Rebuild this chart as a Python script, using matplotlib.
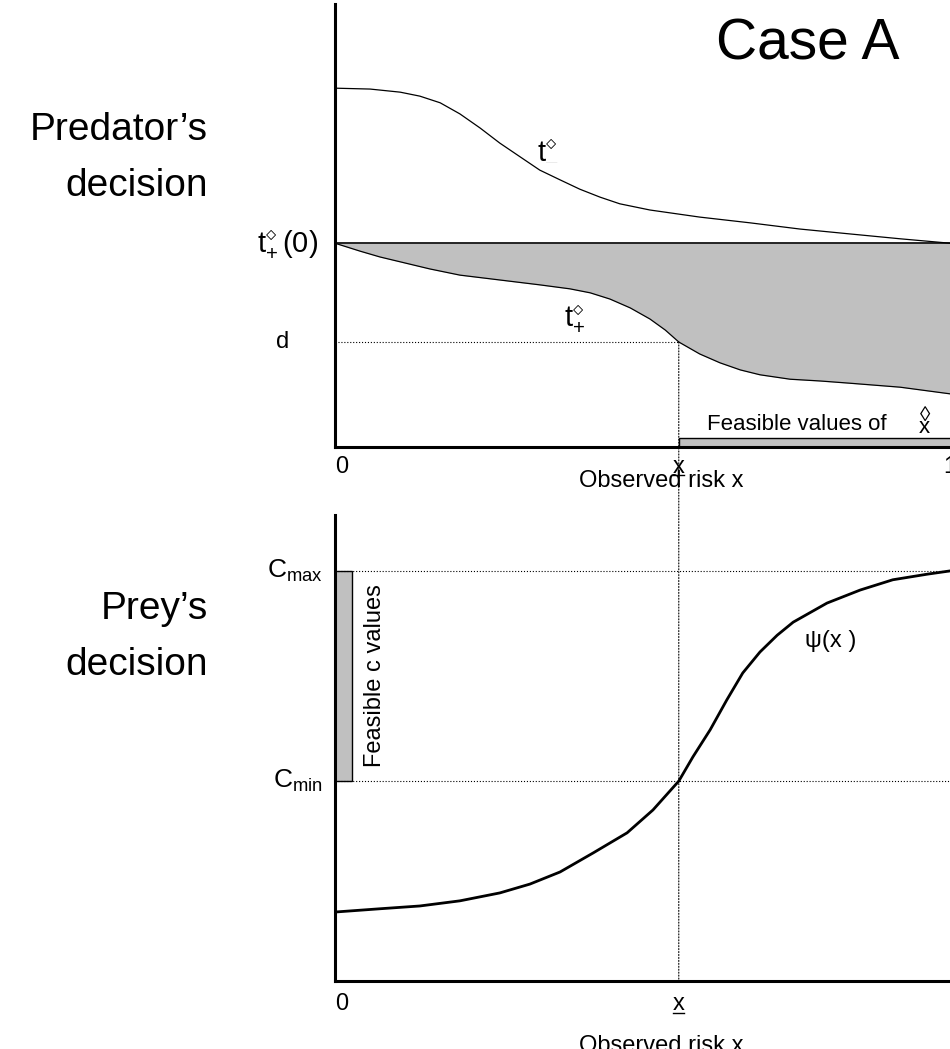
import numpy as np
import matplotlib.pyplot as plt
from matplotlib.patches import Rectangle, ConnectionPatch

plt.rcParams['font.family'] = ['Liberation Sans', 'DejaVu Sans']
plt.rcParams['mathtext.fontset'] = 'custom'
plt.rcParams['mathtext.rm'] = 'Liberation Sans'
plt.rcParams['mathtext.it'] = 'Liberation Sans:italic'
plt.rcParams['mathtext.sf'] = 'Liberation Sans'

# --- predator panel (axes scaled 0..1) ---
x_tm = [0, 0.057, 0.106, 0.138, 0.171, 0.203, 0.236, 0.268, 0.301, 0.333, 0.366,
        0.398, 0.431, 0.463, 0.512, 0.593, 0.675, 0.756, 0.837, 0.919, 1.0]
t_minus = [0.810, 0.808, 0.801, 0.792, 0.777, 0.752, 0.720, 0.686, 0.655, 0.625, 0.603,
           0.582, 0.564, 0.549, 0.535, 0.519, 0.506, 0.492, 0.481, 0.470, 0.460]

x_tp = [0, 0.041, 0.073, 0.106, 0.154, 0.203, 0.268, 0.333, 0.382, 0.415, 0.447, 0.480,
        0.512, 0.537, 0.559, 0.593, 0.626, 0.659, 0.691, 0.740, 0.789, 0.837, 0.919, 1.0]
t_plus = [0.460, 0.442, 0.429, 0.418, 0.402, 0.388, 0.377, 0.366, 0.357, 0.348, 0.334, 0.314,
          0.289, 0.264, 0.237, 0.210, 0.190, 0.174, 0.163, 0.153, 0.149, 0.144, 0.135, 0.120]

t_plus0 = 0.46
d_level = 0.237
x_low = 0.559
bar_h = 0.02

# --- prey panel ---
x_psi = [0, 0.073, 0.138, 0.203, 0.268, 0.317, 0.366, 0.420, 0.475, 0.517, 0.559, 0.582,
         0.610, 0.637, 0.663, 0.691, 0.719, 0.745, 0.800, 0.854, 0.907, 0.963, 1.0]
psi = [0.148, 0.155, 0.161, 0.172, 0.189, 0.208, 0.234, 0.275, 0.318, 0.367, 0.429, 0.481,
       0.539, 0.603, 0.661, 0.706, 0.742, 0.770, 0.811, 0.839, 0.861, 0.873, 0.880]
c_max = 0.88
c_min = 0.429
c_bar_w = 0.028

W, H = 950, 1049
fig = plt.figure(figsize=(W / 100, H / 100), dpi=100)


def px_axes(left, top, bottom, right=950):
    return fig.add_axes([left / W, 1 - bottom / H, (right - left) / W, (bottom - top) / H])


def style(ax):
    for s in ['top', 'right']:
        ax.spines[s].set_visible(False)
    for s in ['left', 'bottom']:
        ax.spines[s].set_linewidth(2.2)
    ax.set_xticks([])
    ax.set_yticks([])
    ax.set_xlim(0, 1)
    ax.set_ylim(0, 1)
    ax.patch.set_alpha(0)


def underline(ax, x, y, half=0.009):
    ax.plot([x - half, x + half], [y, y], color='black', lw=1, clip_on=False)


fs = 17
fs_t = 21
t_minus_label = r'$\mathrm{t}^{\diamond}_{\mathrm{' + '\u2013' + r'}}$'

# top panel
ax1 = px_axes(335, 4, 447)
style(ax1)
ax1.fill_between(x_tp, t_plus, t_plus0, color='silver', lw=0)
ax1.plot(x_tm, t_minus, color='black', lw=0.9)
ax1.plot(x_tp, t_plus, color='black', lw=0.9)
ax1.plot([0, 1], [t_plus0, t_plus0], color='black', lw=1.2)
ax1.plot([0, x_low], [d_level, d_level], color='black', lw=0.8, ls=':')
ax1.add_patch(Rectangle((x_low, 0), 1.1 - x_low, bar_h, facecolor='silver',
                        edgecolor='black', lw=1, clip_on=False))

ax1.text(-0.028, t_plus0, r'$\mathrm{t}^{\diamond}_{+}\,$(0)', ha='right', va='center', fontsize=fs_t)
ax1.text(-0.085, d_level, 'd', ha='center', va='center', fontsize=fs)
ax1.text(0.346, 0.673, t_minus_label, ha='center', va='center', fontsize=fs_t)
ax1.text(0.39, 0.29, r'$\mathrm{t}^{\diamond}_{+}$', ha='center', va='center', fontsize=fs_t)
ax1.text(0.605, 0.05, 'Feasible values of', ha='left', va='center', fontsize=16)
ax1.text(0.959, 0.072, '\u25ca', ha='center', va='center', fontsize=15)
ax1.text(0.959, 0.045, 'x', ha='center', va='center', fontsize=16)
ax1.text(0, -0.02, '0', ha='left', va='top', fontsize=fs)
ax1.text(x_low, -0.02, 'x', ha='center', va='top', fontsize=fs)
underline(ax1, x_low, -0.064)
ax1.text(1, -0.02, '1', ha='center', va='top', fontsize=fs)
ax1.text(0.53, -0.052, 'Observed risk x', ha='center', va='top', fontsize=fs)

# bottom panel
ax2 = px_axes(335, 515, 981)
style(ax2)
ax2.plot(x_psi, psi, color='black', lw=2)
ax2.plot([0, 1], [c_max, c_max], color='black', lw=0.8, ls=':')
ax2.plot([0, 1], [c_min, c_min], color='black', lw=0.8, ls=':')
ax2.add_patch(Rectangle((0, c_min), c_bar_w, c_max - c_min, facecolor='silver',
                        edgecolor='black', lw=1))
ax2.text(-0.02, c_max, r'$\mathrm{C}_{\mathrm{max}}$', ha='right', va='center', fontsize=19)
ax2.text(-0.02, c_min, r'$\mathrm{C}_{\mathrm{min}}$', ha='right', va='center', fontsize=19)
ax2.text(0.065, (c_max + c_min) / 2, 'Feasible c values', rotation=90,
         ha='center', va='center', fontsize=fs)
ax2.text(0.765, 0.73, '\u03c8(x )', ha='left', va='center', fontsize=fs)
ax2.text(0, -0.025, '0', ha='left', va='top', fontsize=fs)
ax2.text(x_low, -0.025, 'x', ha='center', va='top', fontsize=fs)
underline(ax2, x_low, -0.069)
ax2.text(0.53, -0.115, 'Observed risk x', ha='center', va='top', fontsize=fs)

# dotted drop line through both panels
con = ConnectionPatch(xyA=(x_low, d_level), coordsA=ax1.transData,
                      xyB=(x_low, 0), coordsB=ax2.transData,
                      color='black', lw=0.8, ls=':')
fig.add_artist(con)

# titles
fig.text(808 / W, 1 - 45 / H, 'Case A', ha='center', va='center', fontsize=41)
fig.text(208 / W, 1 - 158 / H, 'Predator\u2019s\ndecision', ha='right', va='center',
         fontsize=28, linespacing=1.68)
fig.text(208 / W, 1 - 637 / H, 'Prey\u2019s\ndecision', ha='right', va='center',
         fontsize=28, linespacing=1.72)

fig.savefig('out.png', dpi=100)
